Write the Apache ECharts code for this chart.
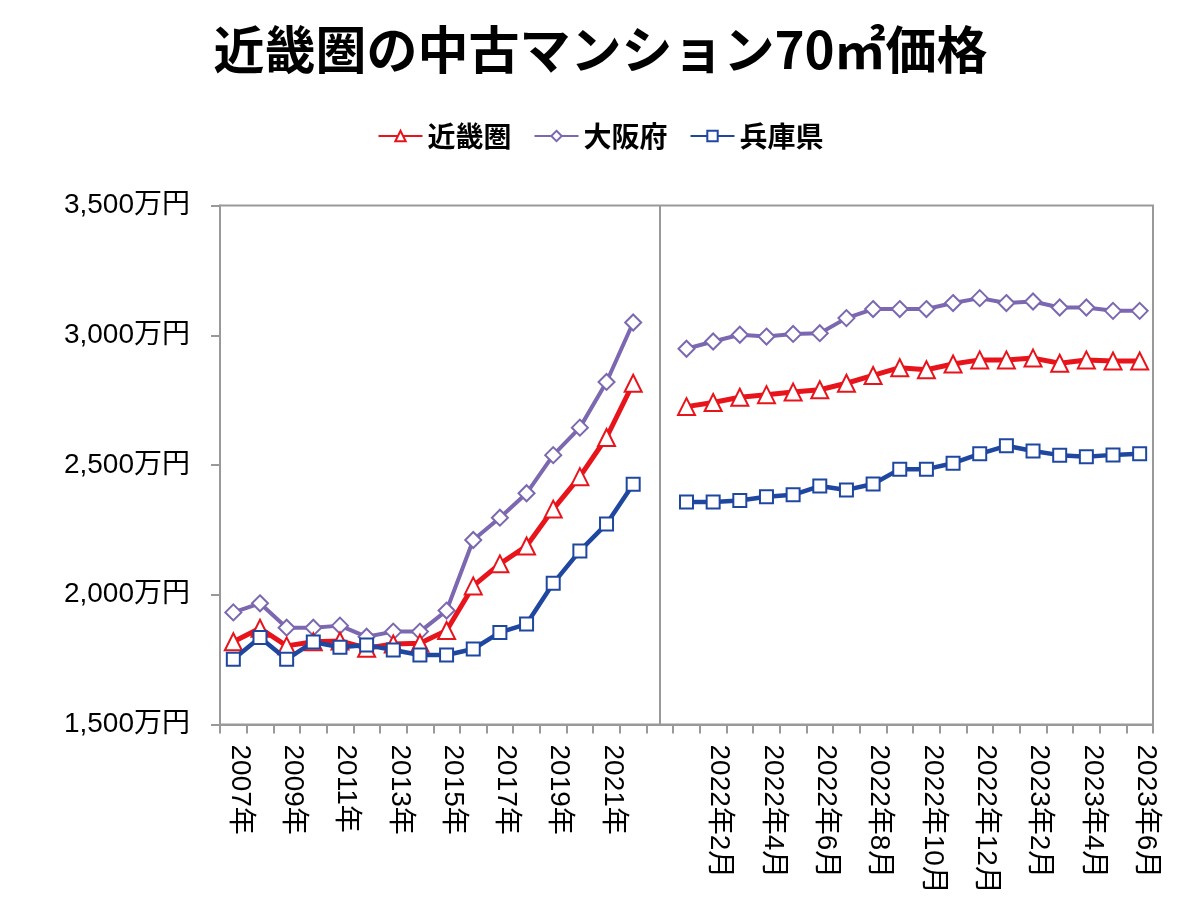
<!DOCTYPE html>
<html><head><meta charset="utf-8">
<script src="https://cdn.jsdelivr.net/npm/echarts@6/dist/echarts.min.js"></script>
<style>html,body{margin:0;padding:0;background:#fff}#c{width:1201px;height:923px}</style>
</head><body><div id="c"></div>
<script>
const years = ['2007年','2008年','2009年','2010年','2011年','2012年','2013年','2014年','2015年','2016年','2017年','2018年','2019年','2020年','2021年','2022年'];
const gap = [''];
const months = ['2022年1月','2022年2月','2022年3月','2022年4月','2022年5月','2022年6月','2022年7月','2022年8月','2022年9月','2022年10月','2022年11月','2022年12月','2023年1月','2023年2月','2023年3月','2023年4月','2023年5月','2023年6月'];
const categories = years.concat(gap, months);

const kinkiYear  = [1819,1871,1803,1819,1822,1794,1810,1813,1862,2034,2119,2188,2330,2455,2606,2815];
const kinkiMonth = [2725,2741,2761,2771,2781,2790,2815,2845,2875,2867,2889,2905,2905,2912,2892,2905,2901,2901];
const osakaYear  = [1932,1967,1873,1873,1881,1838,1858,1858,1939,2211,2297,2391,2538,2644,2820,3049];
const osakaMonth = [2948,2976,3002,2995,3005,3008,3066,3101,3101,3101,3124,3143,3124,3130,3107,3107,3094,3094];
const hyogoYear  = [1751,1835,1751,1818,1798,1806,1787,1768,1768,1791,1855,1887,2044,2169,2273,2426];
const hyogoMonth = [2357,2357,2363,2378,2385,2419,2404,2427,2484,2484,2507,2543,2574,2554,2538,2532,2539,2543];

const yTicks = [1500,2000,2500,3000,3500];

function join(a,b){ return a.concat([null], b); }
const FONT = '"Noto Sans CJK JP","Noto Sans",sans-serif';
const AXFONT = '"Liberation Sans","Noto Sans CJK JP",sans-serif';

const chart = echarts.init(document.getElementById('c'));
chart.setOption({
  animation:false,
  backgroundColor:'#fff',
  title:{text:'近畿圏の中古マンション70㎡価格',left:'center',top:19,
    textStyle:{fontSize:51,fontWeight:'bold',color:'#000',fontFamily:FONT}},
  legend:{top:117,left:'center',itemWidth:44,itemHeight:13,itemGap:22,
    textStyle:{fontSize:28,color:'#000',fontFamily:FONT,fontWeight:'bold'},
    data:['近畿圏','大阪府','兵庫県']},
  grid:{left:220,right:48,top:205.5,bottom:198.5,show:true,borderColor:'#999',borderWidth:2,backgroundColor:'transparent'},
  xAxis:{type:'category',data:categories,boundaryGap:true,
    axisLine:{lineStyle:{color:'#999',width:2}},
    axisTick:{show:true,interval:0,length:9,lineStyle:{color:'#999',width:2}},
    axisLabel:{interval:1,rotate:-90,margin:20,fontSize:28,color:'#000',fontFamily:AXFONT,
      verticalAlign:'bottom',lineHeight:12}},
  yAxis:{type:'value',min:yTicks[0],max:yTicks[yTicks.length-1],interval:500,
    axisLine:{show:true,lineStyle:{color:'#999',width:2}},
    axisTick:{show:true,length:9,lineStyle:{color:'#999',width:2}},
    splitLine:{show:false},
    axisLabel:{margin:30,fontSize:28,color:'#000',fontFamily:AXFONT,
      formatter:v=>v.toLocaleString('en-US')+'万円'}},
  series:[
    {name:'近畿圏',type:'line',data:join(kinkiYear,kinkiMonth),connectNulls:false,
      symbol:'triangle',symbolSize:17,z:3,
      lineStyle:{color:'#E8141C',width:5},
      itemStyle:{color:'#fff',borderColor:'#E8141C',borderWidth:2},
      markLine:{silent:true,symbol:'none',label:{show:false},
        lineStyle:{color:'#999',width:2,type:'solid'},data:[{xAxis:16}]}},
    {name:'大阪府',type:'line',data:join(osakaYear,osakaMonth),connectNulls:false,
      symbol:'diamond',symbolSize:16,z:2,
      lineStyle:{color:'#7B68B0',width:4},
      itemStyle:{color:'#fff',borderColor:'#7B68B0',borderWidth:2}},
    {name:'兵庫県',type:'line',data:join(hyogoYear,hyogoMonth),connectNulls:false,
      symbol:'rect',symbolSize:13,z:4,
      lineStyle:{color:'#1F47A0',width:4.5},
      itemStyle:{color:'#fff',borderColor:'#1F47A0',borderWidth:2}}
  ]
});
</script></body></html>
